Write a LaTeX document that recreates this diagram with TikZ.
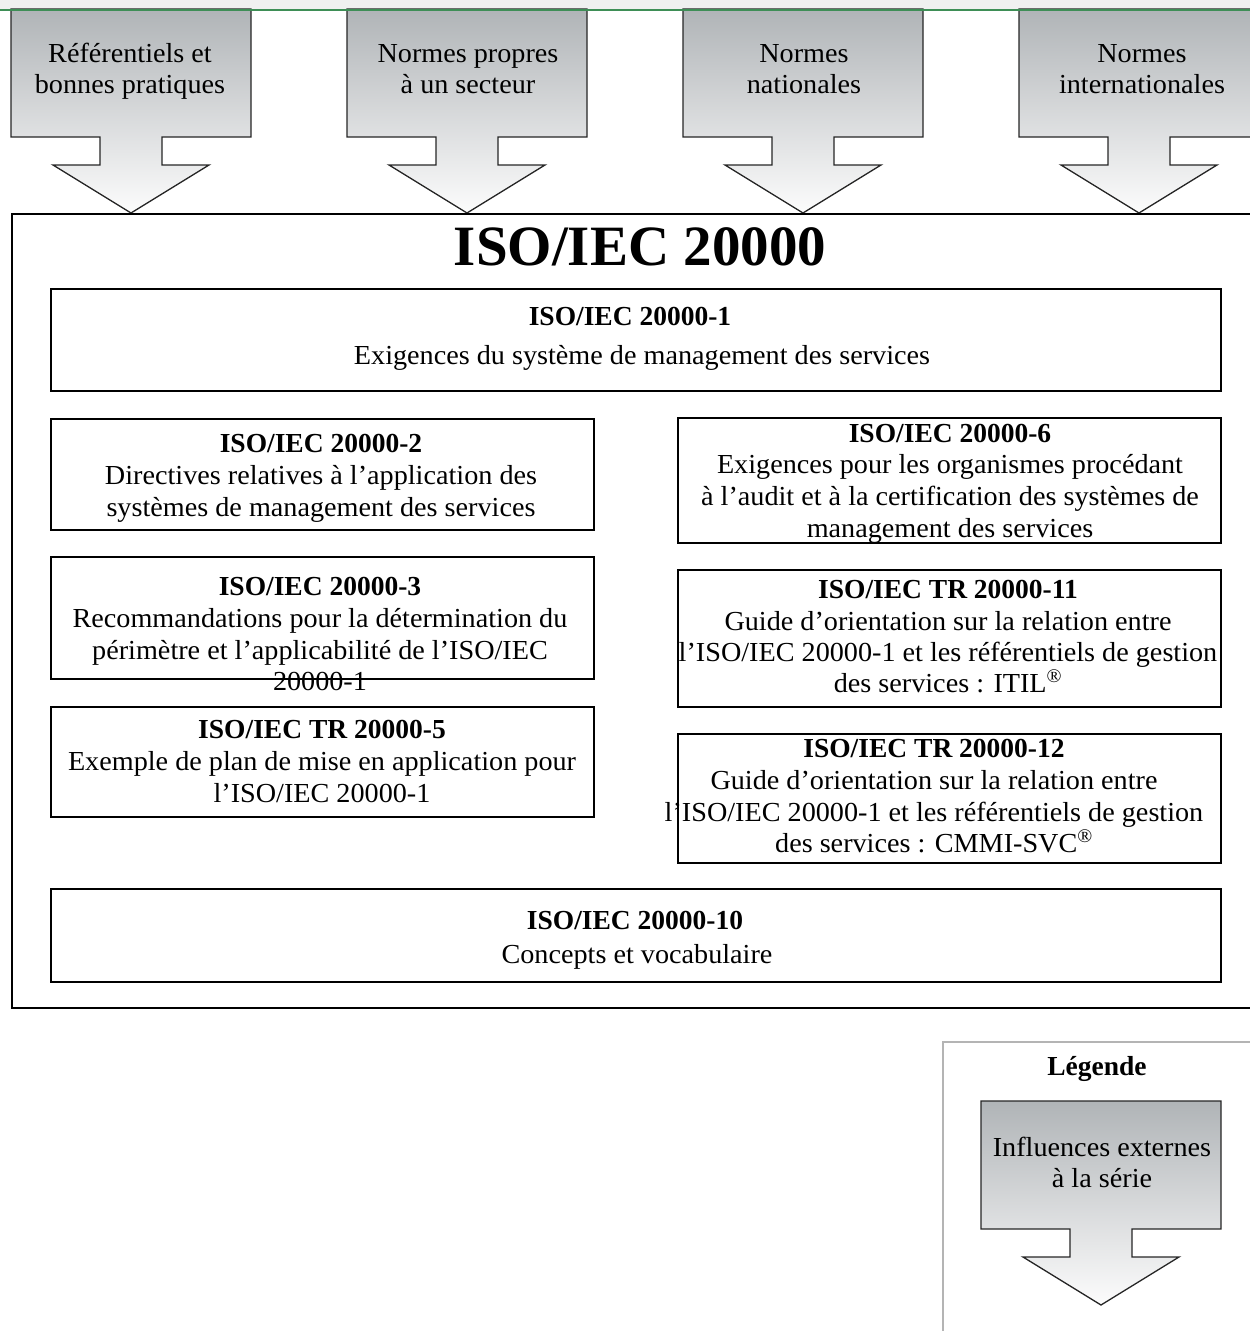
\documentclass[tikz,border=0pt]{standalone}
\usepackage{fontspec}
\setmainfont{Liberation Serif}
\newfontfamily\bodyfont{Liberation Serif}[FakeStretch=1.025]
\definecolor{bandgrey}{HTML}{F0F0F0}
\definecolor{bandgreen}{HTML}{3E8E56}
\definecolor{arrtop}{HTML}{B0B4B7}
\definecolor{arrbot}{HTML}{FCFCFC}
\definecolor{legendgrey}{HTML}{B4B4B4}
\begin{document}
\begin{tikzpicture}[x=1pt,y=-1pt,
  box/.style={draw=black, line width=2pt, inner sep=0pt, anchor=north west},
  ln/.style={anchor=base, inner sep=0pt, font=\bodyfont\fontsize{27.5}{32}\selectfont},
  hd/.style={anchor=base, inner sep=0pt, font=\fontsize{27.5}{32}\selectfont\bfseries},
  extarrow/.style={draw=black!85, line width=1.3pt, top color=arrtop, bottom color=arrbot},
]
\newcommand\ExtArrow[3]{%
  \path[extarrow, shift={(#1,#2)}]
    (-120,0) -- (120,0) -- (120,128) -- (31,128) -- (31,156) -- (78,156)
    -- (0,204) -- (-78,156) -- (-31,156) -- (-31,128) -- (-120,128) -- cycle;
  \coordinate (#3) at (#1,#2+204);}
\useasboundingbox (0,0) rectangle (1250,1331);
\clip (0,0) rectangle (1250,1331);
% top band
\fill[bandgrey] (0,0) rectangle (1250,9);
% external influence arrows
\ExtArrow{131}{9}{tipA}
\ExtArrow{467}{9}{tipB}
\ExtArrow{803}{9}{tipC}
\ExtArrow{1139}{9}{tipD}
\draw[bandgreen, line width=2pt] (0,9.5) -- (1250,9.5);
\node[ln] (a1l1) at (130,62) {Référentiels et};
\node[ln] (a1l2) at (130,93) {bonnes pratiques};
\node[ln] (a2l1) at (468,62) {Normes propres};
\node[ln] (a2l2) at (468,93) {à un secteur};
\node[ln] (a3l1) at (804,62) {Normes};
\node[ln] (a3l2) at (804,93) {nationales};
\node[ln] (a4l1) at (1142,62) {Normes};
\node[ln] (a4l2) at (1142,93) {internationales};
% outer frame
\node[box, minimum width=1260, minimum height=794] (outer) at (11,213) {};
\node[anchor=base, inner sep=0pt, font=\fontsize{57}{60}\selectfont\bfseries] (title) at (640,265) {ISO/IEC 20000};
% boxes
\node[box, minimum width=1170, minimum height=102] (b1) at (50,288) {};
\node[hd] (b1h) at (630,325) {ISO/IEC 20000-1};
\node[ln] (b1l1) at (642,364) {Exigences du système de management des services};

\node[box, minimum width=543, minimum height=111] (b2) at (50,418) {};
\node[hd] (b2h) at (321,452) {ISO/IEC 20000-2};
\node[ln] (b2l1) at (321,484) {Directives relatives à l’application des};
\node[ln] (b2l2) at (321,516) {systèmes de management des services};

\node[box, minimum width=543, minimum height=122] (b3) at (50,556) {};
\node[hd] (b3h) at (320,595) {ISO/IEC 20000-3};
\node[ln] (b3l1) at (320,627) {Recommandations pour la détermination du};
\node[ln] (b3l2) at (320,659) {périmètre et l’applicabilité de l’ISO/IEC};
\node[ln] (b3l3) at (320,690) {20000-1};

\node[box, minimum width=543, minimum height=110] (b5) at (50,706) {};
\node[hd] (b5h) at (322,738) {ISO/IEC TR 20000-5};
\node[ln] (b5l1) at (322,770) {Exemple de plan de mise en application pour};
\node[ln] (b5l2) at (322,802) {l’ISO/IEC 20000-1};

\node[box, minimum width=543, minimum height=125] (b6) at (677,417) {};
\node[hd] (b6h) at (950,442) {ISO/IEC 20000-6};
\node[ln] (b6l1) at (950,473) {Exigences pour les organismes procédant};
\node[ln] (b6l2) at (950,505) {à l’audit et à la certification des systèmes de};
\node[ln] (b6l3) at (950,537) {management des services};

\node[box, minimum width=543, minimum height=137] (b11) at (677,569) {};
\node[hd] (b11h) at (948,598) {ISO/IEC TR 20000-11};
\node[ln] (b11l1) at (948,630) {Guide d’orientation sur la relation entre};
\node[ln] (b11l2) at (948,661) {l’ISO/IEC 20000-1 et les référentiels de gestion};
\node[ln] (b11l3) at (948,692) {des services : ITIL\textsuperscript{®}};

\node[box, minimum width=543, minimum height=129] (b12) at (677,733) {};
\node[hd] (b12h) at (934,757) {ISO/IEC TR 20000-12};
\node[ln] (b12l1) at (934,789) {Guide d’orientation sur la relation entre};
\node[ln] (b12l2) at (934,821) {l’ISO/IEC 20000-1 et les référentiels de gestion};
\node[ln] (b12l3) at (934,852) {des services : CMMI-SVC\textsuperscript{®}};

\node[box, minimum width=1170, minimum height=93] (b10) at (50,888) {};
\node[hd] (b10h) at (635,929) {ISO/IEC 20000-10};
\node[ln] (b10l1) at (637,963) {Concepts et vocabulaire};
% legend
\node[draw=legendgrey, line width=2pt, anchor=north west, inner sep=0pt,
  minimum width=400, minimum height=400] (legend) at (942,1041) {};
\node[hd] (legendh) at (1097,1075) {Légende};
\ExtArrow{1101}{1101}{tipL}
\node[ln] (lgl1) at (1102,1156) {Influences externes};
\node[ln] (lgl2) at (1102,1187) {à la série};
\end{tikzpicture}
\end{document}
